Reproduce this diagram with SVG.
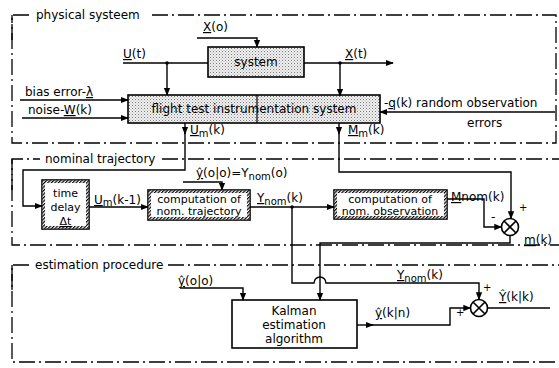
<svg xmlns="http://www.w3.org/2000/svg" width="559" height="368" viewBox="0 0 559 368">
<defs>
<marker id="ah" viewBox="0 0 10 10" refX="9" refY="5" markerWidth="8" markerHeight="8" orient="auto" markerUnits="userSpaceOnUse"><path d="M0,1 L10,5 L0,9 z" fill="#000"/></marker>
<pattern id="dots" width="3" height="3" patternUnits="userSpaceOnUse"><rect width="3" height="3" fill="#f0f0f0"/><rect x="0" y="0" width="1" height="1" fill="#7a7a7a"/><rect x="1.5" y="1.5" width="1" height="1" fill="#aaa"/></pattern>
<pattern id="hatch" width="2.5" height="2.5" patternUnits="userSpaceOnUse" patternTransform="rotate(45)"><rect width="2.5" height="2.5" fill="#fff"/><rect width="1.2" height="2.5" fill="#000"/></pattern>
</defs>
<style>
text{font-family:"DejaVu Sans","Liberation Sans",sans-serif;font-size:12px;fill:#000}
.fr{fill:none;stroke:#000;stroke-width:1.3;stroke-dasharray:16 4 2 4}
.ln{fill:none;stroke:#000;stroke-width:1.4}
.box{stroke:#000;stroke-width:1.6}
.hb{fill:none;stroke:url(#hatch);stroke-width:2.5}
.u{text-decoration:underline}
.c{text-anchor:middle}
.s{font-size:10px}
.t{font-size:11px}
</style>

<g id="frames">
<path class="fr" d="M12,40 V15 H30"/>
<path class="fr" d="M152,15 H556 V143 H12 V15"/>
<text x="36" y="19">physical systeem</text>
<path class="fr" d="M12,190 V159 H40"/>
<path class="fr" d="M162,159 H559"/>
<path class="fr" d="M12,159 V245 H559"/>
<text x="45" y="163">nominal trajectory</text>
<path class="fr" d="M12,290 V265 H32"/>
<path class="fr" d="M168,265 H559"/>
<path class="fr" d="M12,265 V362 H559"/>
<text x="35" y="269">estimation procedure</text>
</g>

<g id="system">
<rect class="box" x="208" y="47" width="96" height="30" fill="url(#dots)"/>
<text class="c" x="256" y="66">system</text>
</g>

<g id="instrumentation">
<rect class="box" x="128" y="95" width="252" height="28" fill="url(#dots)"/>
<line x1="257" y1="95" x2="257" y2="123" stroke="#000" stroke-width="1.2"/>
<text class="c" x="254" y="113">flight test instrumentation system</text>
</g>

<g id="timedelay">
<rect class="box" x="42" y="180" width="47" height="49" fill="#fff"/>
<rect class="hb" x="43.8" y="181.8" width="43.4" height="45.4"/>
<text class="c t" x="65.5" y="197">time</text>
<text class="c t" x="65.5" y="211">delay</text>
<text class="c t" x="65.5" y="225"><tspan class="u">Δt</tspan></text>
</g>

<g id="nomtraj">
<rect class="box" x="148" y="190" width="102" height="30" fill="#fff"/>
<rect class="hb" x="149.8" y="191.8" width="98.4" height="26.4"/>
<text class="c t" x="199" y="203">computation of</text>
<text class="c t" x="199" y="215">nom. trajectory</text>
</g>

<g id="nomobs">
<rect class="box" x="334" y="190" width="113" height="29" fill="#fff"/>
<rect class="hb" x="335.8" y="191.8" width="109.4" height="25.4"/>
<text class="c t" x="390" y="203">computation of</text>
<text class="c t" x="390" y="215">nom. observation</text>
</g>

<g id="kalman">
<rect class="box" x="232" y="300" width="125" height="48" fill="#fff"/>
<text class="c" x="294" y="315">Kalman</text>
<text class="c" x="294" y="329">estimation</text>
<text class="c" x="294" y="343">algorithm</text>
</g>

<g id="sum1">
<circle cx="510" cy="227" r="8.5" fill="#fff" stroke="#000" stroke-width="1.6"/>
<path d="M504,221 L516,233 M516,221 L504,233" stroke="#000" stroke-width="1.6"/>
</g>

<g id="sum2">
<circle cx="479" cy="308" r="8.5" fill="#fff" stroke="#000" stroke-width="1.6"/>
<path d="M473,302 L485,314 M485,302 L473,314" stroke="#000" stroke-width="1.6"/>
</g>

<g id="connectors">
<path class="ln" d="M197,38 H257 V47" marker-end="url(#ah)"/>
<path class="ln" d="M123,63 H208"/>
<path class="ln" d="M167,63 V95" marker-end="url(#ah)"/>
<path class="ln" d="M304,63 H393" marker-end="url(#ah)"/>
<path class="ln" d="M340,63 V96" marker-end="url(#ah)"/>
<path class="ln" d="M20,100 H128" marker-end="url(#ah)"/>
<path class="ln" d="M22,118 H128" marker-end="url(#ah)"/>
<path class="ln" d="M555,112 H380" marker-end="url(#ah)"/>
<path class="ln" d="M185,123 V134" marker-end="url(#ah)"/>
<path class="ln" d="M185,132 V170 H23 V206 H42" marker-end="url(#ah)"/>
<path class="ln" d="M89,207 H148" marker-end="url(#ah)"/>
<path class="ln" d="M183,182 H222 V190" marker-end="url(#ah)"/>
<path class="ln" d="M250,207 H334" marker-end="url(#ah)"/>
<path class="ln" d="M292,207 V283 H314 A6,6 0 0 1 326,283 H479 V299.5" marker-end="url(#ah)"/>
<path class="ln" d="M339,123 V134" marker-end="url(#ah)"/>
<path class="ln" d="M339,132 V172 H511 V218.5" marker-end="url(#ah)"/>
<path class="ln" d="M447,199 H484 V227 H501.5" marker-end="url(#ah)"/>
<path class="ln" d="M510,235.5 V243 H320 V300" marker-end="url(#ah)"/>
<path class="ln" d="M180,288 H243 V300" marker-end="url(#ah)"/>
<path class="ln" d="M357,325 H373" marker-end="url(#ah)"/>
<path class="ln" d="M370,325 H450 V308 H470.5" marker-end="url(#ah)"/>
<path class="ln" d="M487.5,308 H550"/>
<circle cx="167" cy="63" r="1.8"/>
<circle cx="340" cy="63" r="1.8"/>
<circle cx="292" cy="207" r="1.8"/>
</g>

<g id="labels">
<text x="203" y="31"><tspan class="u">X</tspan>(o)</text>
<text x="123" y="58"><tspan class="u">U</tspan>(t)</text>
<text x="345" y="58"><tspan class="u">X</tspan>(t)</text>
<text x="25" y="96">bias error-<tspan class="u">λ</tspan></text>
<text x="28" y="114">noise-<tspan class="u">W</tspan>(k)</text>
<text x="384" y="107">-<tspan class="u">q</tspan>(k) random observation</text>
<text x="467" y="127">errors</text>
<text x="190" y="134"><tspan class="u">U</tspan><tspan class="s" dy="3">m</tspan><tspan dy="-3">(k)</tspan></text>
<text x="348" y="134"><tspan class="u">M</tspan><tspan class="s" dy="3">m</tspan><tspan dy="-3">(k)</tspan></text>
<text x="196" y="177"><tspan class="u">ŷ</tspan>(o|o)=Y<tspan class="s" dy="3">nom</tspan><tspan dy="-3">(o)</tspan></text>
<text x="94" y="204"><tspan class="u">U</tspan><tspan class="s" dy="2">m</tspan><tspan dy="-2">(k-1)</tspan></text>
<text x="257" y="202"><tspan class="u">Y</tspan><tspan class="s" dy="3">nom</tspan><tspan dy="-3">(k)</tspan></text>
<text x="451" y="201"><tspan class="u">M</tspan>nom(k)</text>
<text x="491" y="221">-</text>
<text x="519" y="211" class="s">+</text>
<text x="524" y="244"><tspan class="u">m</tspan>(k)</text>
<text x="178" y="285"><tspan class="u">ŷ</tspan>(o|o)</text>
<text x="397" y="279"><tspan class="u">Y</tspan><tspan class="s" dy="3">nom</tspan><tspan dy="-3">(k)</tspan></text>
<text x="483" y="291" class="s">+</text>
<text x="375" y="317"><tspan class="u">ŷ</tspan>(k|n)</text>
<text x="456" y="316" class="s">+</text>
<text x="499" y="301"><tspan class="u">Ŷ</tspan>(k|k)</text>
</g>
</svg>
